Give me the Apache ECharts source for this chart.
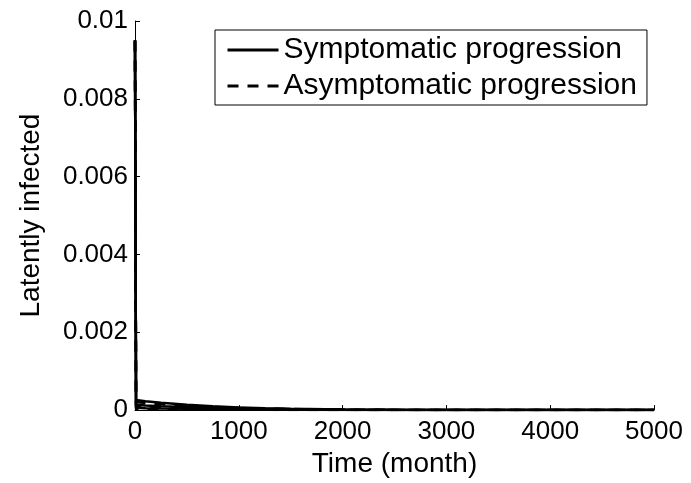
<!DOCTYPE html>
<html>
<head>
<meta charset="utf-8">
<script src="https://cdn.jsdelivr.net/npm/echarts@6/dist/echarts.min.js"></script>
<style>
  html, body { margin: 0; padding: 0; background: #fff; }
  #chart { width: 691px; height: 483px; }
</style>
</head>
<body>
<div id="chart"></div>
<script>
// Time points (months)
var timeMonths = [0, 10, 25, 100, 250, 500, 750, 1000, 1250, 1500, 2000, 2500, 3000, 4000, 5000];

// Latently infected fraction, symptomatic progression runs
var symptomaticA = [0.0095, 0.00026, 0.00025, 0.00023, 0.00019, 0.00014, 0.00010, 0.00007, 0.00005, 0.000035, 0.000017, 0.000008, 0.000004, 0.000001, 0];
var symptomaticB = [0.0095, 0.00014, 0.00013, 0.00012, 0.00010, 0.00008, 0.00006, 0.000045, 0.000032, 0.000022, 0.00001, 0.000005, 0.000002, 0.0000005, 0];
var symptomaticC = [0.0095, 0.00006, 0.000055, 0.00005, 0.000042, 0.000033, 0.000025, 0.000018, 0.000012, 0.000008, 0.000004, 0.000002, 0.000001, 0, 0];

// Latently infected fraction, asymptomatic progression runs
var asymptomaticA = [0.0095, 0.00021, 0.0002, 0.00018, 0.00015, 0.00011, 0.00008, 0.000055, 0.00004, 0.000028, 0.000013, 0.000006, 0.000003, 0.000001, 0];
var asymptomaticB = [0.0095, 0.0001, 0.000095, 0.00009, 0.000075, 0.00006, 0.000045, 0.000033, 0.000024, 0.000016, 0.000007, 0.000003, 0.000001, 0, 0];
var asymptomaticC = [0.0095, 0.00003, 0.000028, 0.000025, 0.00002, 0.000016, 0.000012, 0.000009, 0.000006, 0.000004, 0.000002, 0.000001, 0, 0, 0];

var yTickLabels = ['0', '0.002', '0.004', '0.006', '0.008', '0.01'];
var xTickLabels = ['0', '1000', '2000', '3000', '4000', '5000'];

var legendNames = ['Symptomatic progression', 'Asymptomatic progression'];

function pairs(values) {
  return timeMonths.map(function (t, i) { return [t, values[i]]; });
}

function curve(name, values, dashed) {
  return {
    name: name,
    type: 'line',
    data: pairs(values),
    symbol: 'none',
    smooth: false,
    lineStyle: { color: '#000', width: 2.5, type: dashed ? [11, 9] : 'solid' },
    itemStyle: { color: '#000' },
    z: 3
  };
}

var font = '"Liberation Sans", Arial, Helvetica, sans-serif';

var chart = echarts.init(document.getElementById('chart'), null, { renderer: 'canvas' });
chart.setOption({
  animation: false,
  backgroundColor: '#fff',
  grid: { left: 135, right: 37, top: 21, bottom: 70, containLabel: false },
  legend: {
    data: legendNames,
    orient: 'vertical',
    left: 215,
    top: 30,
    align: 'left',
    backgroundColor: '#fff',
    borderColor: '#000',
    borderWidth: 1,
    borderRadius: 0,
    padding: [5, 10, 4, 11],
    itemWidth: 51,
    itemHeight: 14,
    itemGap: 6,
    // line-only key: hide the marker drawn on top of the line sample
    itemStyle: { opacity: 0 },
    lineStyle: { width: 3 },
    textStyle: { fontFamily: font, fontSize: 30, color: '#000', padding: [0, 0, 0, 0] }
  },
  xAxis: {
    type: 'value',
    min: 0,
    max: 5000,
    interval: 1000,
    name: 'Time (month)',
    nameLocation: 'middle',
    nameGap: 36,
    nameTextStyle: { fontFamily: font, fontSize: 28, color: '#000' },
    axisLine: { show: true, onZero: false, lineStyle: { color: '#000', width: 1 } },
    axisTick: { show: true, inside: true, length: 5, lineStyle: { color: '#000' } },
    axisLabel: {
      fontFamily: font, fontSize: 26, color: '#000', margin: 9,
      formatter: function (v, i) { return xTickLabels[i]; }
    },
    splitLine: { show: false }
  },
  yAxis: {
    type: 'value',
    min: 0,
    max: 0.01,
    interval: 0.002,
    name: 'Latently infected',
    nameLocation: 'middle',
    nameGap: 90,
    nameRotate: 90,
    nameTextStyle: { fontFamily: font, fontSize: 28, color: '#000' },
    axisLine: { show: true, onZero: false, lineStyle: { color: '#000', width: 1 } },
    axisTick: { show: true, inside: true, length: 5, lineStyle: { color: '#000' } },
    axisLabel: {
      fontFamily: font, fontSize: 26, color: '#000', margin: 7,
      formatter: function (v, i) { return yTickLabels[i]; }
    },
    splitLine: { show: false }
  },
  series: [
    curve(legendNames[0], symptomaticA, false),
    curve(legendNames[1], asymptomaticA, true),
    curve(legendNames[0], symptomaticB, false),
    curve(legendNames[1], asymptomaticB, true),
    curve(legendNames[0], symptomaticC, false),
    curve(legendNames[1], asymptomaticC, true)
  ]
});
</script>
</body>
</html>
